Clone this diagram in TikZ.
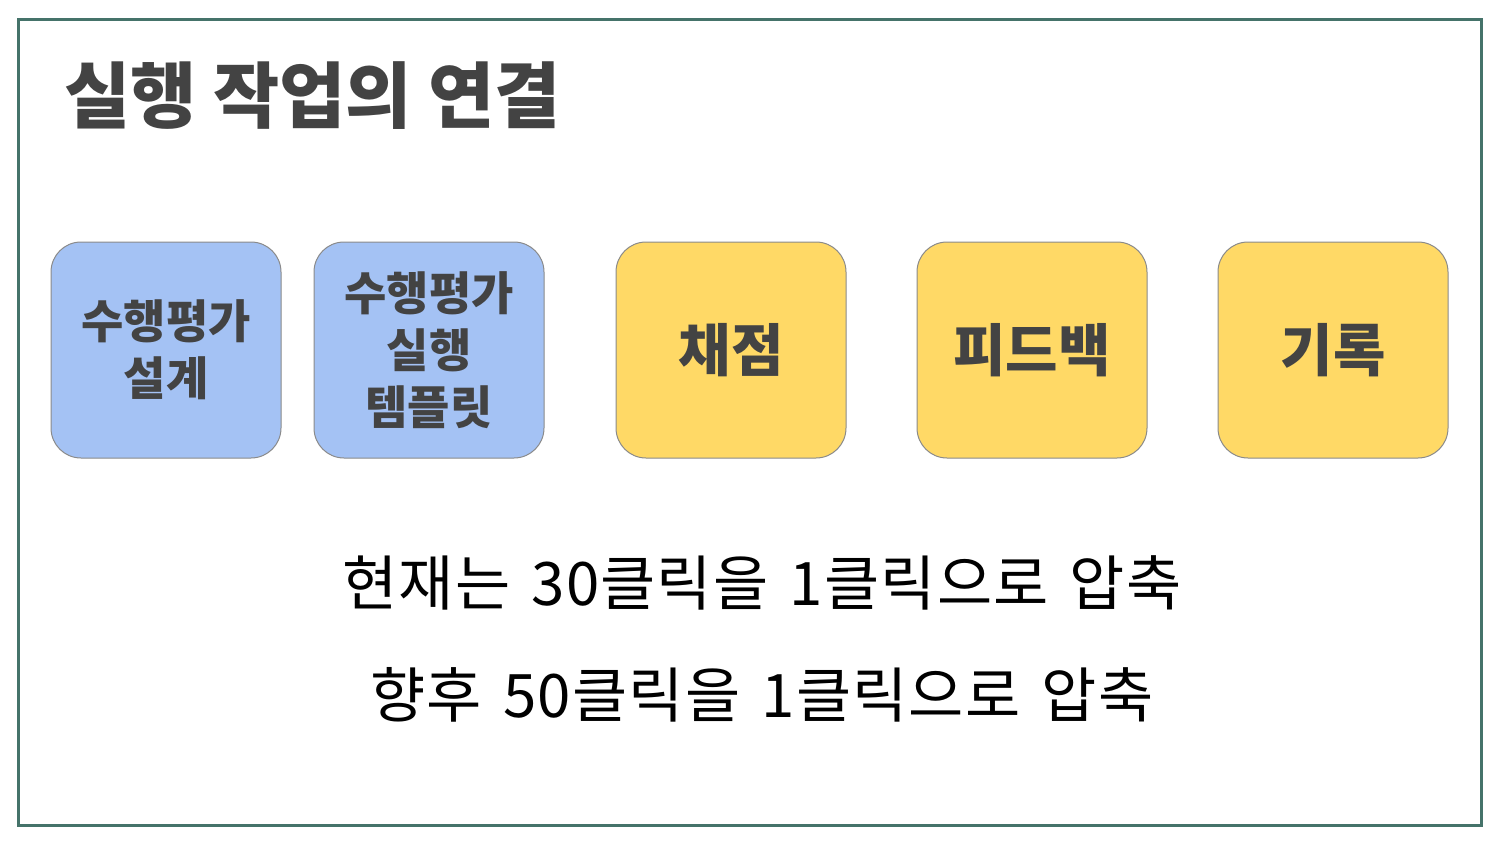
\documentclass[tikz,border=0pt]{standalone}
\usepackage{fontspec}
\setmainfont{Noto Sans CJK KR}
\newfontfamily\widefont{Noto Sans CJK KR}[WordSpace=1.45, LetterSpace=2]
\definecolor{framegreen}{HTML}{45736A}
\definecolor{boxblue}{HTML}{A4C2F4}
\definecolor{boxyellow}{HTML}{FFD966}
\definecolor{boxline}{HTML}{8A8A8A}
\definecolor{textgray}{HTML}{434343}
\begin{document}
\begin{tikzpicture}[x=1pt,y=-1pt]

        \useasboundingbox (0,0) rectangle (1500,844);
        \draw[framegreen, line width=3pt] (18,19) rectangle (1481,825);

        \node[anchor=west, text=textgray, font=\fontsize{72}{80}\selectfont\bfseries] (title) at (61,96) {실행 작업의 연결};

        \begin{scope}[every node/.style={draw=boxline, line width=1pt, rounded corners=30pt,
            minimum width=230pt, minimum height=216pt, align=center, text=textgray,
            font=\fontsize{46}{57}\selectfont\bfseries}]
          \node[fill=boxblue]   (design)   at (166,350)  {수행평가\\설계};
          \node[fill=boxblue]   (template) at (429,350)  {수행평가\\실행\\템플릿};
          \node[fill=boxyellow, font=\fontsize{57}{60}\selectfont\bfseries] (grade)    at (731,350)  {채점};
          \node[fill=boxyellow, font=\fontsize{57}{60}\selectfont\bfseries] (feedback) at (1032,350) {피드백};
          \node[fill=boxyellow, font=\fontsize{57}{60}\selectfont\bfseries] (record)   at (1333,350) {기록};
        \end{scope}

        \begin{scope}[every node/.style={font=\widefont\fontsize{60}{64}\selectfont, text=black}]
          \node (now)    at (762,583) {현재는 30클릭을 1클릭으로 압축};
          \node (future) at (762,695) {향후 50클릭을 1클릭으로 압축};
        \end{scope}

      \end{tikzpicture}
\end{document}
